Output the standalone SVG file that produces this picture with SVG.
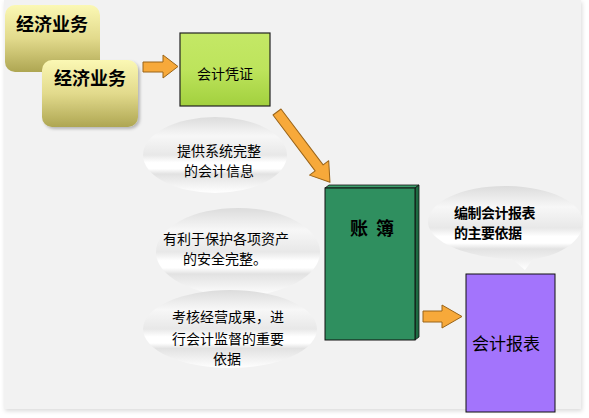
<svg xmlns="http://www.w3.org/2000/svg" width="589" height="418" viewBox="0 0 589 418">
<defs>
<linearGradient id="gBiz" x1="0" y1="0" x2="0" y2="1">
<stop offset="0" stop-color="#fbf8b4"/>
<stop offset="0.5" stop-color="#e2da8c"/>
<stop offset="1" stop-color="#aea652"/>
</linearGradient>
<linearGradient id="gVou" x1="0" y1="0" x2="0" y2="1">
<stop offset="0" stop-color="#c4e866"/>
<stop offset="0.5" stop-color="#bde45c"/>
<stop offset="1" stop-color="#a2d03e"/>
</linearGradient>
<linearGradient id="gEll" x1="0" y1="0" x2="0" y2="1">
<stop offset="0" stop-color="#dcdcdc"/>
<stop offset="0.25" stop-color="#f7f7f7"/>
<stop offset="0.5" stop-color="#e8e8e8"/>
<stop offset="0.6" stop-color="#ffffff"/>
<stop offset="0.68" stop-color="#ffffff"/>
<stop offset="0.75" stop-color="#e2e2e2"/>
<stop offset="1" stop-color="#ffffff"/>
</linearGradient>
<filter id="sh" x="-10%" y="-10%" width="130%" height="130%">
<feDropShadow dx="2" dy="2" stdDeviation="1.5" flood-color="#000" flood-opacity="0.25"/>
</filter>
<filter id="psh" x="-5%" y="-5%" width="110%" height="110%">
<feDropShadow dx="1" dy="2" stdDeviation="2" flood-color="#000" flood-opacity="0.15"/>
</filter>
</defs>
<style>
.biz{fill:url(#gBiz);}
.bizt{font-family:"Noto Sans CJK SC",sans-serif;font-weight:bold;font-size:18px;fill:#000;}
.t14{font-family:"Noto Sans CJK SC",sans-serif;font-size:14px;fill:#000;}
.ell{fill:url(#gEll);}
.arr{fill:#f7a93a;stroke:#9a6418;stroke-width:1;stroke-linejoin:round;}
</style>
<rect x="0" y="0" width="589" height="418" fill="#ffffff"/>
<rect x="4" y="0" width="577" height="409" fill="#f2f2f2" filter="url(#psh)"/>

<g id="biz1">
<rect class="biz" x="5" y="5" width="95" height="67" rx="10"/>
<text class="bizt" x="16" y="31">经济业务</text>
</g>
<g id="biz2">
<rect class="biz" x="42" y="60" width="96" height="67" rx="10" filter="url(#sh)"/>
<text class="bizt" x="54" y="85">经济业务</text>
</g>
<g id="voucher">
<rect x="180" y="33" width="90" height="73" fill="url(#gVou)" stroke="#222" stroke-width="1.2"/>
<text class="t14" x="225" y="79" text-anchor="middle">会计凭证</text>
</g>
<g id="e1">
<ellipse class="ell" cx="215" cy="155" rx="72" ry="38"/>
<text class="t14" x="219" y="156" text-anchor="middle">提供系统完整</text>
<text class="t14" x="219" y="176" text-anchor="middle">的会计信息</text>
</g>
<g id="e2">
<ellipse class="ell" cx="238" cy="252" rx="82" ry="44"/>
<text class="t14" x="226" y="244" text-anchor="middle">有利于保护各项资产</text>
<text class="t14" x="225" y="264" text-anchor="middle">的安全完整。</text>
</g>
<g id="e3">
<ellipse class="ell" cx="230" cy="329" rx="87" ry="39"/>
<text class="t14" x="228" y="322" text-anchor="middle">考核经营成果，进</text>
<text class="t14" x="228" y="344" text-anchor="middle">行会计监督的重要</text>
<text class="t14" x="227" y="364" text-anchor="middle">依据</text>
</g>
<g id="ledger">
<polygon points="325,188 329,185 419,185 415,188" fill="#3d9e6c" stroke="#111" stroke-width="0.8"/>
<polygon points="415,188 419,185 419,337 415,340" fill="#1e6a42" stroke="#111" stroke-width="0.8"/>
<rect x="325" y="188" width="90" height="152" fill="#2f8f5f" stroke="#111" stroke-width="1"/>
<text class="bizt" x="350" y="235">账</text>
<text class="bizt" x="376" y="235">簿</text>
</g>
<g id="bubble">
<path d="M505,186 C548,186 583,202 583,222 C583,241 560,256 533,259 L525,270 L512,259 C468,258 428,242 428,222 C428,202 462,186 505,186 Z" fill="url(#gEll)"/>
<text class="t14" x="454" y="218" font-weight="bold" letter-spacing="-0.5">编制会计报表</text>
<text class="t14" x="454" y="238" font-weight="bold" letter-spacing="-0.5">的主要依据</text>
</g>
<g id="report">
<rect x="466" y="274" width="89" height="138" fill="#a374fc" stroke="#111" stroke-width="1"/>
<text x="506" y="350" text-anchor="middle" font-family="Noto Sans CJK SC, sans-serif" font-size="17" fill="#000">会计报表</text>
</g>
<g id="connectors">
<polygon class="arr" points="143,62 163,62 163,55 178,66.5 163,78 163,72 143,72"/>
<polygon class="arr" transform="translate(277,112) rotate(53)" points="0,-5 70,-5 70,-12 88,0 70,12 70,5 0,5"/>
<polygon class="arr" points="423,311 442,311 442,305 462,316.5 442,328 442,322 423,322"/>
</g>
</svg>
